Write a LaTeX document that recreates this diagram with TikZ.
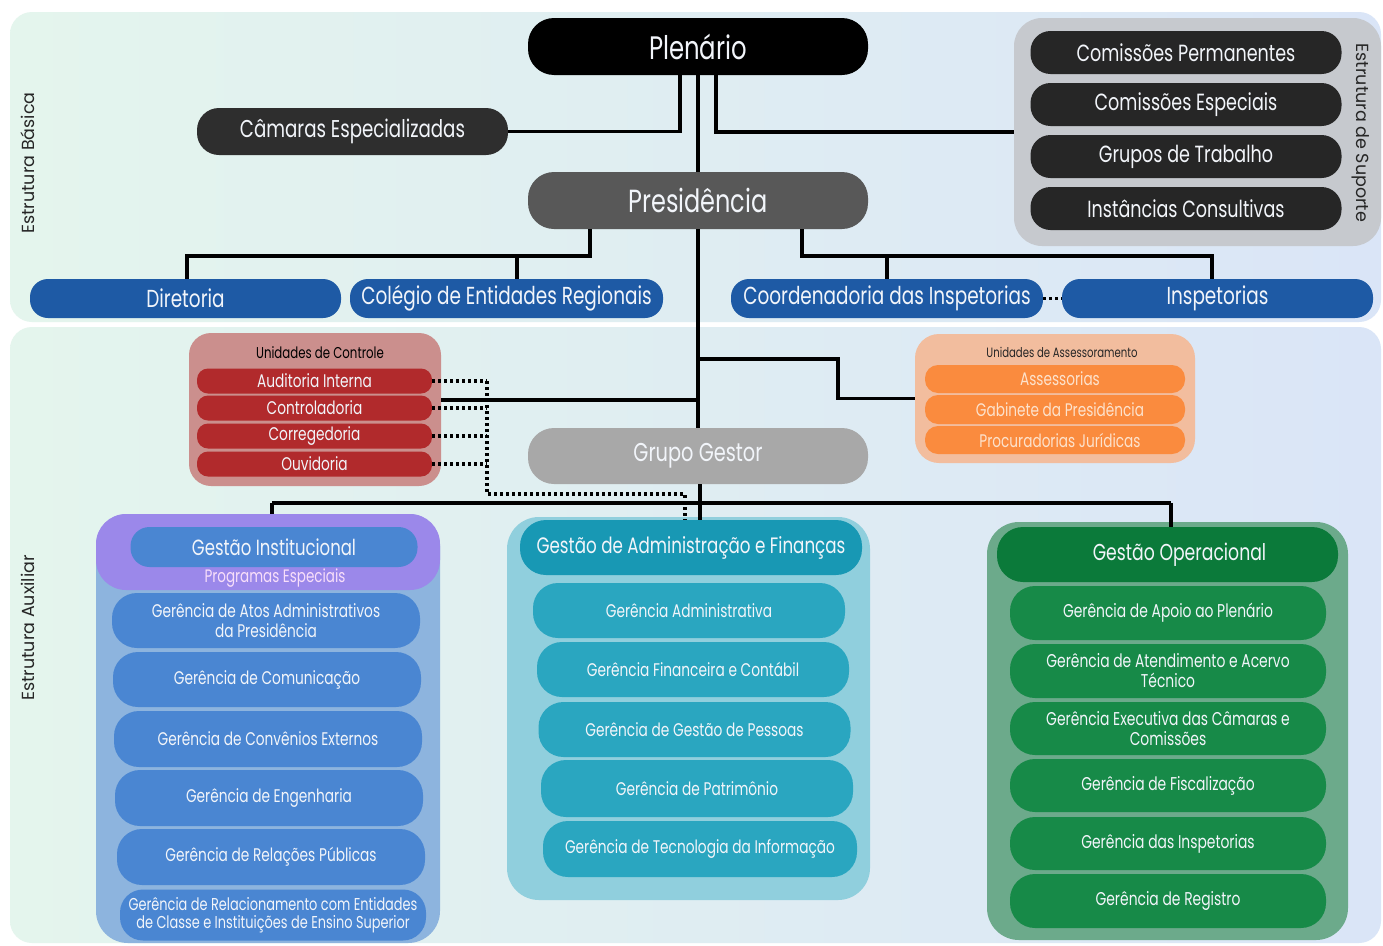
\documentclass[tikz,border=0pt]{standalone}
\usepackage{fontspec}
\setmainfont{Poppins}[FakeStretch=0.75]
\newfontfamily\labfont{Poppins}
\newcommand\myfs[1]{\fontsize{#1}{1.08em}\selectfont\baselineskip=1.08em\relax}
\definecolor{cBlue}{HTML}{1E5AA5}
\definecolor{cCam}{HTML}{2E2E2E}
\definecolor{cSup}{HTML}{262626}
\definecolor{cSupBox}{HTML}{C6C9CE}
\definecolor{cPres}{HTML}{585858}
\definecolor{cGG}{HTML}{A8A8A8}
\definecolor{cCtrlBox}{HTML}{CB8F8D}
\definecolor{cCtrl}{HTML}{B12A2C}
\definecolor{cAssBox}{HTML}{F2BD9E}
\definecolor{cAss}{HTML}{FA8B3E}
\definecolor{cAssTxt}{HTML}{FDE2CC}
\definecolor{cInstBox}{HTML}{8DB4DE}
\definecolor{cInstP}{HTML}{9B88EA}
\definecolor{cInst}{HTML}{4A86D2}
\definecolor{cProg}{HTML}{F8DEFA}
\definecolor{cAdmBox}{HTML}{90CFDD}
\definecolor{cAdmH}{HTML}{1898B4}
\definecolor{cAdm}{HTML}{2AA6C0}
\definecolor{cOpBox}{HTML}{6CAA8B}
\definecolor{cOpH}{HTML}{0B7A3A}
\definecolor{cOp}{HTML}{178A48}
\definecolor{cBgL}{HTML}{E4F5ED}
\definecolor{cBgR}{HTML}{DAE5F7}
\definecolor{cTxt}{HTML}{F2F5FA}
\tikzset{
  box/.style={inner sep=0pt, align=center, text=cTxt},
  conn/.style={line width=3.2pt, black},
  dotc/.style={line width=3.2pt, black, dash pattern=on 3pt off 3pt},
  panel/.style={left color=cBgL, right color=cBgR, draw=none, rounded corners=22},
  sidelab/.style={inner sep=0pt, font=\labfont\fontsize{17.5}{19}\selectfont, text=black!85},
}
\begin{document}
\begin{tikzpicture}[x=1pt,y=-1pt]
\useasboundingbox (0,0) rectangle (1383,945);
\fill[white] (0,0) rectangle (1383,945);
% panels
\shade[panel] (10,12) rectangle (1381,322);
\shade[panel] (10,327) rectangle (1381,943);
\node[sidelab, rotate=90] (lbB) at (28,163) {Estrutura Básica};
\node[sidelab, rotate=90] (lbA) at (28,628) {Estrutura Auxiliar};

% top structure
\node[box, fill=black, minimum width=340, minimum height=57, rounded corners=26, font=\myfs{32.5}] (plen) at (698,46.5) {Plenário};
\node[box, fill=cCam, minimum width=311, minimum height=47, rounded corners=22, font=\myfs{24.3}] (cam) at (352.5,131.5) {Câmaras Especializadas};
\node[box, fill=cPres, minimum width=340, minimum height=57, rounded corners=26, font=\myfs{32}] (pres) at (698,200.5) {Presidência};

\node[box, fill=cSupBox, minimum width=367, minimum height=228, rounded corners=28] (supbox) at (1197.5,132) {};
\node[box, fill=cSup, minimum width=311, minimum height=43, rounded corners=20, font=\myfs{23.4}] (cp) at (1186,52.5) {Comissões Permanentes};
\node[box, fill=cSup, minimum width=311, minimum height=43, rounded corners=20, font=\myfs{23.4}] (ce) at (1186,104.5) {Comissões Especiais};
\node[box, fill=cSup, minimum width=311, minimum height=43, rounded corners=20, font=\myfs{23.4}] (gt) at (1186,156.5) {Grupos de Trabalho};
\node[box, fill=cSup, minimum width=311, minimum height=43, rounded corners=20, font=\myfs{23.4}] (ic) at (1186,208.5) {Instâncias Consultivas};
\node[sidelab, rotate=-90] (lbS) at (1361,133) {Estrutura de Suporte};

\node[box, fill=cBlue, minimum width=311, minimum height=39, rounded corners=18, font=\myfs{24.6}] (dir) at (185.5,298.5) {Diretoria};
\node[box, fill=cBlue, minimum width=313, minimum height=39, rounded corners=18, font=\myfs{24.6}] (col) at (506.5,298.5) {Colégio de Entidades Regionais};
\node[box, fill=cBlue, minimum width=312, minimum height=39, rounded corners=18, font=\myfs{24.6}] (coo) at (887,298.5) {Coordenadoria das Inspetorias};
\node[box, fill=cBlue, minimum width=311, minimum height=39, rounded corners=18, font=\myfs{24.6}] (insp) at (1217.5,298.5) {Inspetorias};

% top connectors
\coordinate (c680) at (680,131.5);
\coordinate (c716) at (716,132);
\draw[conn] (plen.south -| c680) |- (cam.east);
\draw[conn] (plen.south -| c716) |- (supbox.west);
\draw[conn] (plen.south) -- (pres.north);
\coordinate (jd) at (187,256);
\coordinate (jc) at (517,256);
\coordinate (jp) at (590,256);
\coordinate (jq) at (802,256);
\coordinate (jk) at (887,256);
\coordinate (ji) at (1212,256);
\draw[conn] (pres.south -| jp) -- (jp) -- (jd) -- (dir.north -| jd);
\draw[conn] (jc) -- (col.north -| jc);
\draw[conn] (pres.south -| jq) -- (jq) -- (ji) -- (insp.north -| ji);
\draw[conn] (jk) -- (coo.north -| jk);
\draw[dotc] (coo.east) -- (insp.west);

% control units
\node[box, fill=cCtrlBox, minimum width=252, minimum height=153, rounded corners=22] (ctrl) at (315,409.5) {};
\node[inner sep=0pt, font=\myfs{15.7}, text=black] (ctrlT) at (320,353) {Unidades de Controle};
\node[box, fill=cCtrl, minimum width=235, minimum height=25, rounded corners=11, font=\myfs{18.3}] (aud) at (314.5,381) {Auditoria Interna};
\node[box, fill=cCtrl, minimum width=235, minimum height=25, rounded corners=11, font=\myfs{18.3}] (ctl) at (314.5,408) {Controladoria};
\node[box, fill=cCtrl, minimum width=235, minimum height=25, rounded corners=11, font=\myfs{18.3}] (cor) at (314.5,436) {Corregedoria};
\node[box, fill=cCtrl, minimum width=235, minimum height=25, rounded corners=11, font=\myfs{18.3}] (ouv) at (314.5,464) {Ouvidoria};

% advisory units
\node[box, fill=cAssBox, minimum width=280, minimum height=129, rounded corners=24] (asb) at (1055,398.5) {};
\node[inner sep=0pt, font=\myfs{13.5}, text=black!85] (asbT) at (1062,352) {Unidades de Assessoramento};
\node[box, fill=cAss, text=cAssTxt, minimum width=260, minimum height=28, rounded corners=13, font=\myfs{18.2}] (ass) at (1055,379) {\hspace*{10pt}Assessorias};
\node[box, fill=cAss, text=cAssTxt, minimum width=260, minimum height=29, rounded corners=13, font=\myfs{18.2}] (gab) at (1055,409.5) {\hspace*{10pt}Gabinete da Presidência};
\node[box, fill=cAss, text=cAssTxt, minimum width=260, minimum height=28, rounded corners=13, font=\myfs{18.2}] (pro) at (1055,440) {\hspace*{10pt}Procuradorias Jurídicas};

\node[box, fill=cGG, minimum width=340, minimum height=56, rounded corners=26, font=\myfs{25.8}] (gg) at (698,456) {Grupo Gestor};

% columns
\node[box, fill=cInstBox, minimum width=344, minimum height=429, rounded corners=32] (instc) at (268,728.5) {};
\node[box, fill=cInstP, minimum width=344, minimum height=76, rounded corners=30] (instp) at (268,552) {};
\node[box, fill=cInst, minimum width=287, minimum height=40, rounded corners=19, font=\myfs{22}] (inst) at (274,547) {Gestão Institucional};
\node[inner sep=0pt, text=cProg, font=\myfs{18}] (prog) at (275,578) {Programas Especiais};
\node[box, fill=cInst, minimum width=308, minimum height=55, rounded corners=25, font=\myfs{18.3}] (i1) at (266,620.5) {Gerência de Atos Administrativos\\da Presidência};
\node[box, fill=cInst, minimum width=308, minimum height=55, rounded corners=25, font=\myfs{18.3}] (i2) at (267,679.5) {Gerência de Comunicação};
\node[box, fill=cInst, minimum width=308, minimum height=56, rounded corners=25, font=\myfs{18.3}] (i3) at (268,739) {Gerência de Convênios Externos};
\node[box, fill=cInst, minimum width=308, minimum height=56, rounded corners=25, font=\myfs{18.3}] (i4) at (269,798) {Gerência de Engenharia};
\node[box, fill=cInst, minimum width=308, minimum height=56, rounded corners=25, font=\myfs{18.3}] (i5) at (271,857) {Gerência de Relações Públicas};
\node[box, fill=cInst, minimum width=306, minimum height=51, rounded corners=23, font=\myfs{17.2}] (i6) at (273,915) {Gerência de Relacionamento com Entidades\\de Classe e Instituições de Ensino Superior};

\node[box, fill=cAdmBox, minimum width=363, minimum height=383, rounded corners=32] (admc) at (688.5,708.5) {};
\node[box, fill=cAdmH, minimum width=342, minimum height=55, rounded corners=26, font=\myfs{22.3}] (adm) at (691,547.5) {Gestão de Administração e Finanças};
\node[box, fill=cAdm, minimum width=312, minimum height=55, rounded corners=25, font=\myfs{18.3}] (a1) at (689,610.5) {Gerência Administrativa};
\node[box, fill=cAdm, minimum width=312, minimum height=55, rounded corners=25, font=\myfs{18.3}] (a2) at (693,669.5) {Gerência Financeira e Contábil};
\node[box, fill=cAdm, minimum width=312, minimum height=55, rounded corners=25, font=\myfs{18.3}] (a3) at (694.5,729.5) {Gerência de Gestão de Pessoas};
\node[box, fill=cAdm, minimum width=312, minimum height=57, rounded corners=25, font=\myfs{18.3}] (a4) at (697,788.5) {Gerência de Patrimônio};
\node[box, fill=cAdm, minimum width=314, minimum height=56, rounded corners=25, font=\myfs{18.3}] (a5) at (700,849) {Gerência de Tecnologia da Informação};

\node[box, fill=cOpBox, minimum width=361, minimum height=418, rounded corners=32] (opc) at (1167.5,731) {};
\node[box, fill=cOpH, minimum width=341, minimum height=55, rounded corners=26, font=\myfs{23}] (oph) at (1167.5,554.5) {\hspace*{24pt}Gestão Operacional};
\node[box, fill=cOp, minimum width=316, minimum height=54, rounded corners=25, font=\myfs{18.5}] (o1) at (1168,613) {Gerência de Apoio ao Plenário};
\node[box, fill=cOp, minimum width=316, minimum height=54, rounded corners=25, font=\myfs{18.5}] (o2) at (1168,671) {Gerência de Atendimento e Acervo\\Técnico};
\node[box, fill=cOp, minimum width=316, minimum height=53, rounded corners=25, font=\myfs{18.5}] (o3) at (1168,728.5) {Gerência Executiva das Câmaras e\\Comissões};
\node[box, fill=cOp, minimum width=316, minimum height=53, rounded corners=25, font=\myfs{18.5}] (o4) at (1168,785.5) {Gerência de Fiscalização};
\node[box, fill=cOp, minimum width=316, minimum height=53, rounded corners=25, font=\myfs{18.5}] (o5) at (1168,843.5) {Gerência das Inspetorias};
\node[box, fill=cOp, minimum width=316, minimum height=54, rounded corners=25, font=\myfs{18.5}] (o6) at (1168,901) {Gerência de Registro};

% lower connectors
\coordinate (ta) at (698,359);
\coordinate (tb) at (838,359);
\coordinate (tc) at (698,400);
\draw[conn] (pres.south) -- (gg.north);
\draw[conn] (ta) -- (tb) |- (asb.west);
\draw[conn] (ctrl.east |- tc) -- (tc);
\coordinate (bl) at (272,503);
\coordinate (br) at (1171,503);
\coordinate (bm) at (700,503);
\draw[conn] (gg.south -| bm) -- (adm.north -| bm);
\draw[conn] (bl) -- (br);
\draw[conn] (bl) -- (instp.north -| bl);
\draw[conn] (br) -- (oph.north -| br);
% dotted links
\coordinate (dx) at (487,494);
\coordinate (dz) at (685,494);
\draw[dotc] (aud.east) -- (aud.east -| dx);
\draw[dotc] (ctl.east) -- (ctl.east -| dx);
\draw[dotc] (cor.east) -- (cor.east -| dx);
\draw[dotc] (ouv.east) -- (ouv.east -| dx);
\draw[dotc] (aud.east -| dx) -- (dx) -- (dz) -- (adm.north -| dz);
\end{tikzpicture}
\end{document}
